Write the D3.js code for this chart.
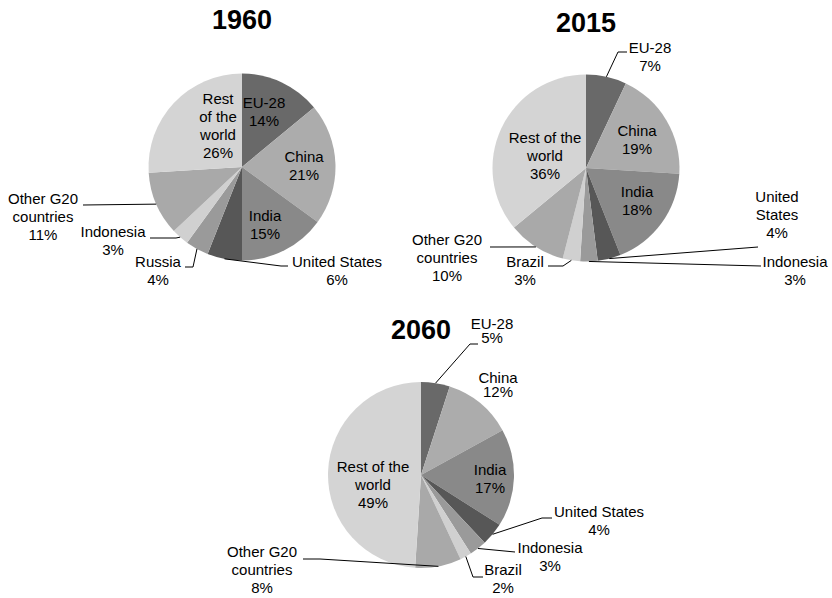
<!DOCTYPE html>
<html>
<head>
<meta charset="utf-8">
<script src="https://cdn.jsdelivr.net/npm/d3@7"></script>
<style>
  body { margin: 0; background: #fff; }
  svg { display: block; }
  text { font-family: Arial, "Liberation Sans", sans-serif; fill: #000; }
</style>
</head>
<body>
<svg></svg>
<script>
const w = 832;
const h = 598;

// shares of the total, clockwise from 12 o'clock
const years = ['1960', '2015', '2060'];
const regions1960 = ['EU-28', 'China', 'India', 'United States', 'Russia', 'Indonesia', 'Other G20 countries', 'Rest of the world'];
const values1960 = [14, 21, 15, 6, 4, 3, 11, 26];
const regions2015 = ['EU-28', 'China', 'India', 'United States', 'Indonesia', 'Brazil', 'Other G20 countries', 'Rest of the world'];
const values2015 = [7, 19, 18, 4, 3, 3, 10, 36];
const regions2060 = ['EU-28', 'China', 'India', 'United States', 'Indonesia', 'Brazil', 'Other G20 countries', 'Rest of the world'];
const values2060 = [5, 12, 17, 4, 3, 2, 8, 49];

const shades = ['#696969', '#acacac', '#898989', '#575757', '#9a9a9a', '#d0d0d0', '#a9a9a9', '#d4d4d4'];

// label placement, relative to each pie centre (x = text centre, y = first baseline)
const layout1960 = [
  { split: ['EU-28'], x: 22, y: -59 },
  { split: ['China'], x: 62, y: -5 },
  { split: ['India'], x: 23, y: 54 },
  { split: ['United States'], x: 95, y: 100, leader: [[39, 99], [46, 99]] },
  { split: ['Russia'], x: -84, y: 100, leader: [[-49, 100], [-57, 100]] },
  { split: ['Indonesia'], x: -129, y: 70, leader: [[-66, 71], [-92, 71]] },
  { split: ['Other G20', 'countries'], x: -199, y: 37, leader: [[-159, 38]] },
  { split: ['Rest', 'of the', 'world'], x: -24, y: -63 }
];
const layout2015 = [
  { split: ['EU-28'], x: 64, y: -115, leader: [[32, -116], [41, -116]] },
  { split: ['China'], x: 51, y: -32 },
  { split: ['India'], x: 51, y: 29 },
  { split: ['United', 'States'], x: 191, y: 34, leader: [[172, 79]] },
  { split: ['Indonesia'], x: 209, y: 99, leader: [[175, 98]] },
  { split: ['Brazil'], x: -61, y: 99, leader: [[-23, 98], [-38, 98]] },
  { split: ['Other G20', 'countries'], x: -139, y: 77, leader: [[-96, 79]] },
  { split: ['Rest of the', 'world'], x: -41, y: -25 }
];
const layout2060 = [
  { split: ['EU-28'], x: 71, y: -146, lh: 14, leader: [[49, -131], [57, -131]] },
  { split: ['China'], x: 77, y: -92, lh: 14 },
  { split: ['India'], x: 69, y: 0 },
  { split: ['United States'], x: 178, y: 42, leader: [[121, 43], [131, 43]] },
  { split: ['Indonesia'], x: 129, y: 78, leader: [[94, 77]] },
  { split: ['Brazil'], x: 82, y: 100, leader: [[52, 102], [62, 102]] },
  { split: ['Other G20', 'countries'], x: -159, y: 82, leader: [[-101, 84], [-118, 84]] },
  { split: ['Rest of the', 'world'], x: -48, y: -3 }
];

const charts = [
  { year: years[0], regions: regions1960, values: values1960, layout: layout1960, cx: 242, cy: 167, r: 93.5, ty: 29 },
  { year: years[1], regions: regions2015, values: values2015, layout: layout2015, cx: 586, cy: 168, r: 93.5, ty: 32 },
  { year: years[2], regions: regions2060, values: values2060, layout: layout2060, cx: 421, cy: 475, r: 93, ty: 339 }
];

const svg = d3.select('svg').attr('width', w).attr('height', h);

const pie = d3.pie().sort(null).value(d => d.value);

charts.forEach(c => {
  const data = c.values.map((v, i) => ({ name: c.regions[i], value: v, i: i }));
  const arcs = pie(data);
  const arc = d3.arc().innerRadius(0).outerRadius(c.r);
  const edge = d3.arc().innerRadius(c.r).outerRadius(c.r);

  svg
    .append('text')
    .text(c.year)
    .attr('x', c.cx)
    .attr('y', c.ty)
    .attr('text-anchor', 'middle')
    .style('font-size', '27px')
    .style('font-weight', 'bold');

  const g = svg.append('g').attr('transform', `translate(${c.cx},${c.cy})`);

  g.selectAll('path.slice')
    .data(arcs)
    .enter()
    .append('path')
    .attr('class', 'slice')
    .attr('d', arc)
    .attr('fill', d => shades[d.data.i]);

  arcs.forEach((a, i) => {
    const lab = c.layout[i];
    if (lab.leader) {
      const pts = [edge.centroid(a)].concat(lab.leader);
      g.append('path')
        .attr('d', d3.line()(pts))
        .attr('fill', 'none')
        .attr('stroke', '#000')
        .attr('stroke-width', 1);
    }
    const lines = lab.split.concat([a.data.value + '%']);
    const lh = lab.lh || 18;
    const t = g
      .append('text')
      .attr('text-anchor', 'middle')
      .style('font-size', '15px');
    lines.forEach((s, k) => {
      t.append('tspan')
        .attr('x', lab.x)
        .attr('y', lab.y + k * lh)
        .text(s);
    });
  });
});
</script>
</body>
</html>
